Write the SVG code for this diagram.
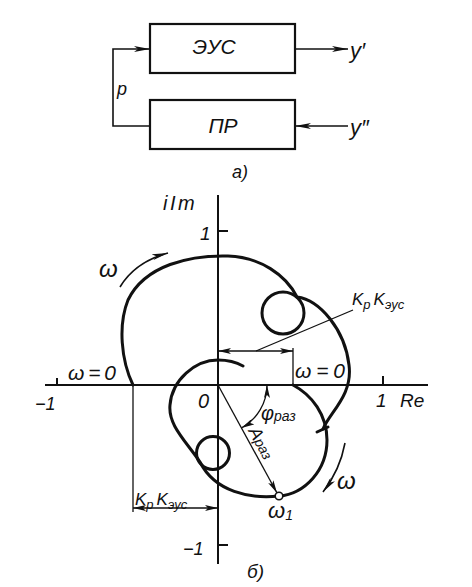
<svg xmlns="http://www.w3.org/2000/svg" width="472" height="587" viewBox="0 0 472 587">
<style>
.t{font-family:"Liberation Sans",Arial,sans-serif;font-style:italic;fill:#111}
.box{fill:#fff;stroke:#111;stroke-width:2.2}
.ln{fill:none;stroke:#111;stroke-width:1.6}
.ax{fill:none;stroke:#111;stroke-width:2}
.thin{fill:none;stroke:#111;stroke-width:1.3}
.cv{fill:none;stroke:#111;stroke-width:3;stroke-linecap:round;stroke-linejoin:round}
</style>
<defs>
<marker id="arr" viewBox="0 0 16 6" refX="16" refY="3" markerWidth="16" markerHeight="6" orient="auto-start-reverse" markerUnits="userSpaceOnUse">
<path d="M0,0 L16,3 L0,6 L4,3 z" fill="#111"/>
</marker>
<marker id="arrs" viewBox="0 0 13 6" refX="13" refY="3" markerWidth="13" markerHeight="6" orient="auto-start-reverse" markerUnits="userSpaceOnUse">
<path d="M0,0 L13,3 L0,6 L3,3 z" fill="#111"/>
</marker>
</defs>

<g id="connectors">
<polyline class="ln" points="150,126 113,126 113,49 150,49" marker-end="url(#arr)"/>
<line class="ln" x1="295" y1="49" x2="348" y2="49" marker-end="url(#arr)"/>
<line class="ln" x1="348" y1="126" x2="295" y2="126" marker-end="url(#arr)"/>
</g>

<g id="node-eus">
<rect class="box" x="150" y="24" width="145" height="49"/>
<text class="t" x="214" y="54" font-size="21" text-anchor="middle">ЭУС</text>
</g>
<g id="node-pr">
<rect class="box" x="150" y="100" width="145" height="49"/>
<text class="t" x="223" y="133" font-size="21" text-anchor="middle">ПР</text>
</g>
<text class="t" x="117" y="95" font-size="18">p</text>
<text class="t" x="350" y="58" font-size="22">y′</text>
<text class="t" x="350" y="135" font-size="22">y″</text>
<text class="t" x="232" y="178" font-size="18">а)</text>

<g id="axes">
<line class="ax" x1="218" y1="195" x2="218" y2="564"/>
<line class="ax" x1="45" y1="385" x2="428" y2="385"/>
<line class="ax" x1="218" y1="231" x2="228" y2="231"/>
<line class="ax" x1="218" y1="545" x2="228" y2="545"/>
<line class="ax" x1="57" y1="378" x2="57" y2="385"/>
<line class="ax" x1="383" y1="376" x2="383" y2="385"/>
</g>

<g id="dimensions">
<line class="thin" x1="133" y1="385" x2="133" y2="512"/>
<line class="thin" x1="133" y1="508" x2="218" y2="508" marker-start="url(#arrs)" marker-end="url(#arrs)"/>
<line class="thin" x1="293" y1="348" x2="293" y2="385"/>
<line class="thin" x1="218" y1="351" x2="293" y2="351" marker-start="url(#arrs)" marker-end="url(#arrs)"/>
<line class="thin" x1="256" y1="351" x2="353" y2="310"/>
<line class="thin" x1="218" y1="385" x2="277" y2="493" marker-end="url(#arrs)"/>
<path class="thin" d="M267,385 A49,49 0 0 1 241.5,427.9" marker-start="url(#arrs)" marker-end="url(#arrs)"/>
<path class="ln" d="M120,287 Q135,262 168,253" stroke-width="2.4" marker-end="url(#arr)"/>
<path class="ln" d="M345,443 Q340,470 323,492" stroke-width="2.4" marker-end="url(#arr)"/>
</g>

<g id="curve-outer">
<path class="cv" d="M133,385 C121,360 118,325 128,300 C145,265 190,255 228,256 C260,257 286,275 297,297 C320,300 345,330 349,365 C353,395 330,412 323,429"/>
<circle class="cv" cx="283" cy="313" r="21"/>
<line class="cv" x1="317" y1="432" x2="328" y2="427" stroke-width="2.4"/>
</g>

<g id="curve-inner">
<path class="cv" d="M293,385 C312,395 327,415 327,440 C327,470 305,494 279,496 C250,499 215,492 200,462 C185,440 168,425 170,405 C172,380 195,360 218,360 C228,360 236,362 243,366"/>
<circle class="cv" cx="213" cy="453" r="16.5"/>
<circle cx="279" cy="496" r="3.8" fill="#fff" stroke="#111" stroke-width="1.6"/>
</g>

<g id="labels">
<text class="t" x="163" y="210" font-size="20" letter-spacing="2.5">iIm</text>
<text class="t" x="200" y="240" font-size="19">1</text>
<text class="t" x="183" y="555" font-size="18">−1</text>
<text class="t" x="35" y="410" font-size="18">−1</text>
<text class="t" x="198" y="408" font-size="20">0</text>
<text class="t" x="376" y="407" font-size="19">1</text>
<text class="t" x="400" y="407" font-size="19">Re</text>
<text class="t" x="68" y="380" font-size="21" textLength="48" lengthAdjust="spacing">ω=0</text>
<text class="t" x="295" y="378" font-size="21" textLength="50" lengthAdjust="spacing">ω=0</text>
<text class="t" x="99" y="277" font-size="24">ω</text>
<text class="t" x="337" y="489" font-size="24">ω</text>
<text class="t" x="268" y="518" font-size="22">ω<tspan font-size="14" dy="2">1</tspan></text>
<text class="t" x="261" y="420" font-size="20">φ<tspan font-size="14" dy="1">раз</tspan></text>
<text class="t" font-size="18" transform="translate(248,431) rotate(61.3)">A<tspan font-size="14">раз</tspan></text>
<text class="t" x="352" y="305" font-size="17">K<tspan font-size="13" dy="4">р</tspan><tspan dy="-4" dx="3">K</tspan><tspan font-size="13" dy="4">эус</tspan></text>
<text class="t" x="135" y="505" font-size="17">K<tspan font-size="13" dy="4">р</tspan><tspan dy="-4" dx="3">K</tspan><tspan font-size="13" dy="4">эус</tspan></text>
<text class="t" x="247" y="578" font-size="19">б)</text>
</g>
</svg>
